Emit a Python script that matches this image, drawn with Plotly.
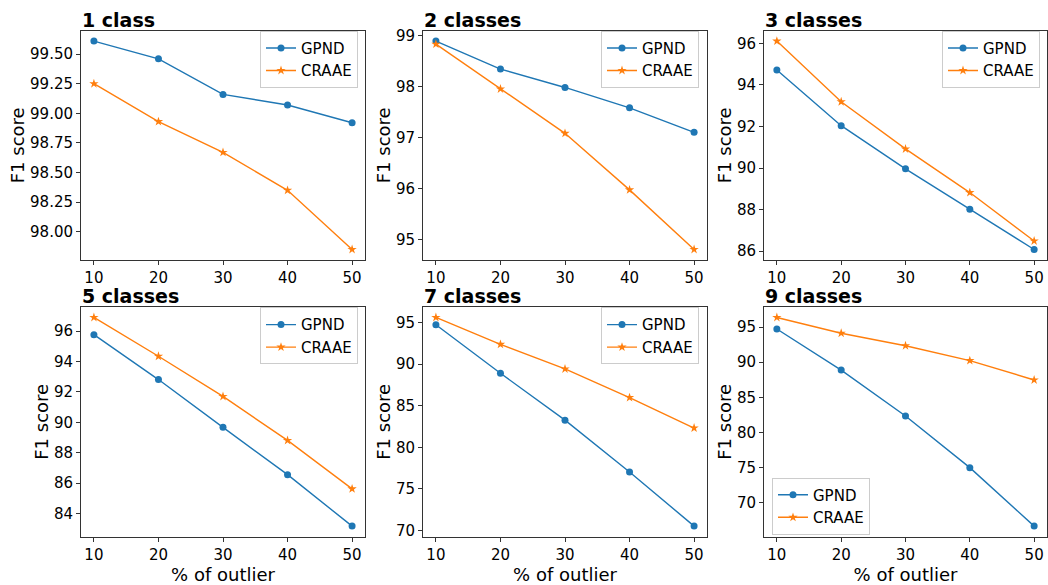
import plotly.graph_objects as go

outlier_pct = [10, 20, 30, 40, 50]
titles = ["1 class", "2 classes", "3 classes", "5 classes", "7 classes", "9 classes"]

gpnd_1 = [99.61, 99.46, 99.16, 99.07, 98.92]
craae_1 = [99.25, 98.93, 98.67, 98.35, 97.85]
gpnd_2 = [98.89, 98.34, 97.98, 97.58, 97.10]
craae_2 = [98.83, 97.95, 97.08, 95.97, 94.80]
gpnd_3 = [94.72, 92.04, 89.96, 88.02, 86.08]
craae_3 = [96.11, 93.19, 90.92, 88.82, 86.49]
gpnd_5 = [95.76, 92.81, 89.67, 86.56, 83.18]
craae_5 = [96.89, 94.34, 91.70, 88.81, 85.63]
gpnd_7 = [94.76, 88.91, 83.27, 77.03, 70.51]
craae_7 = [95.63, 92.39, 89.43, 85.99, 82.32]
gpnd_9 = [94.72, 88.87, 82.34, 75.00, 66.68]
craae_9 = [96.36, 94.12, 92.34, 90.23, 87.47]

gpnd_all = [gpnd_1, gpnd_2, gpnd_3, gpnd_5, gpnd_7, gpnd_9]
craae_all = [craae_1, craae_2, craae_3, craae_5, craae_7, craae_9]
y_dticks = [0.25, 1, 2, 2, 5, 5]
y_formats = [".2f", "d", "d", "d", "d", "d"]

W, H = 1048, 585
col_px = [(81, 365), (423, 707), (764, 1047)]
row_px = [(27, 259), (306.7, 539)]
legend_px = [(358, 27, "right", "top"), (699, 27, "right", "top"), (1040, 27, "right", "top"),
             (358, 307, "right", "top"), (699, 307, "right", "top"), (772, 537, "left", "bottom")]

BLUE = "#1f77b4"
ORANGE = "#ff7f0e"
FONT = "DejaVu Sans"

fig = go.Figure()
layout = dict(
    width=W, height=H, margin=dict(l=0, r=0, t=0, b=0),
    paper_bgcolor="white", plot_bgcolor="white",
    font=dict(family=FONT, size=15, color="black"),
    annotations=[],
)

for i in range(6):
    r, c = divmod(i, 3)
    ax = "" if i == 0 else str(i + 1)
    leg = "legend" if i == 0 else f"legend{i + 1}"
    x0, x1 = col_px[c]
    top, bot = row_px[r]
    fig.add_trace(go.Scatter(
        x=outlier_pct, y=gpnd_all[i], mode="lines+markers", name="GPND",
        line=dict(color=BLUE, width=1.4), marker=dict(symbol="circle", size=7, color=BLUE),
        xaxis="x" + ax, yaxis="y" + ax, legend=leg))
    fig.add_trace(go.Scatter(
        x=outlier_pct, y=craae_all[i], mode="lines+markers", name="CRAAE",
        line=dict(color=ORANGE, width=1.4), marker=dict(symbol="star", size=7, color=ORANGE),
        xaxis="x" + ax, yaxis="y" + ax, legend=leg))
    vals = gpnd_all[i] + craae_all[i]
    lo, hi = min(vals), max(vals)
    pad = (hi - lo) * 0.05
    common = dict(showline=True, linecolor="#333333", linewidth=1, mirror=True,
                  ticks="outside", ticklen=4, tickcolor="#333333", showgrid=False,
                  zeroline=False, tickfont=dict(size=15, family=FONT, color="black"))
    layout["xaxis" + ax] = dict(
        domain=[x0 / W, x1 / W], anchor="y" + ax, range=[8, 52],
        tickvals=outlier_pct,
        title=dict(text="% of outlier" if r == 1 else "", font=dict(size=18, family=FONT), standoff=0),
        **common)
    layout["yaxis" + ax] = dict(
        domain=[1 - bot / H, 1 - top / H], anchor="x" + ax, range=[lo - pad, hi + pad],
        dtick=y_dticks[i], tickformat=y_formats[i],
        title=dict(text="F1 score", font=dict(size=18, family=FONT), standoff=0),
        **common)
    lx, ly, xa, ya = legend_px[i]
    layout[leg] = dict(
        x=lx / W, y=1 - ly / H, xanchor=xa, yanchor=ya, xref="paper", yref="paper",
        bgcolor="rgba(255,255,255,0.8)", bordercolor="#cccccc", borderwidth=1,
        font=dict(size=15, family=FONT, color="black"), itemwidth=30,
        tracegroupgap=0)
    layout["annotations"].append(dict(
        text=f"<b>{titles[i]}</b>", x=x0 / W, y=1 - (top - 1) / H, xref="paper", yref="paper",
        xanchor="left", yanchor="bottom", showarrow=False, borderpad=0,
        height=18, valign="middle",
        font=dict(size=19, family=FONT, color="black")))

fig.update_layout(**layout)
fig.write_html("out.html", config={"displayModeBar": False},
               post_script="document.body.style.margin='0';document.body.style.overflow='hidden';")
